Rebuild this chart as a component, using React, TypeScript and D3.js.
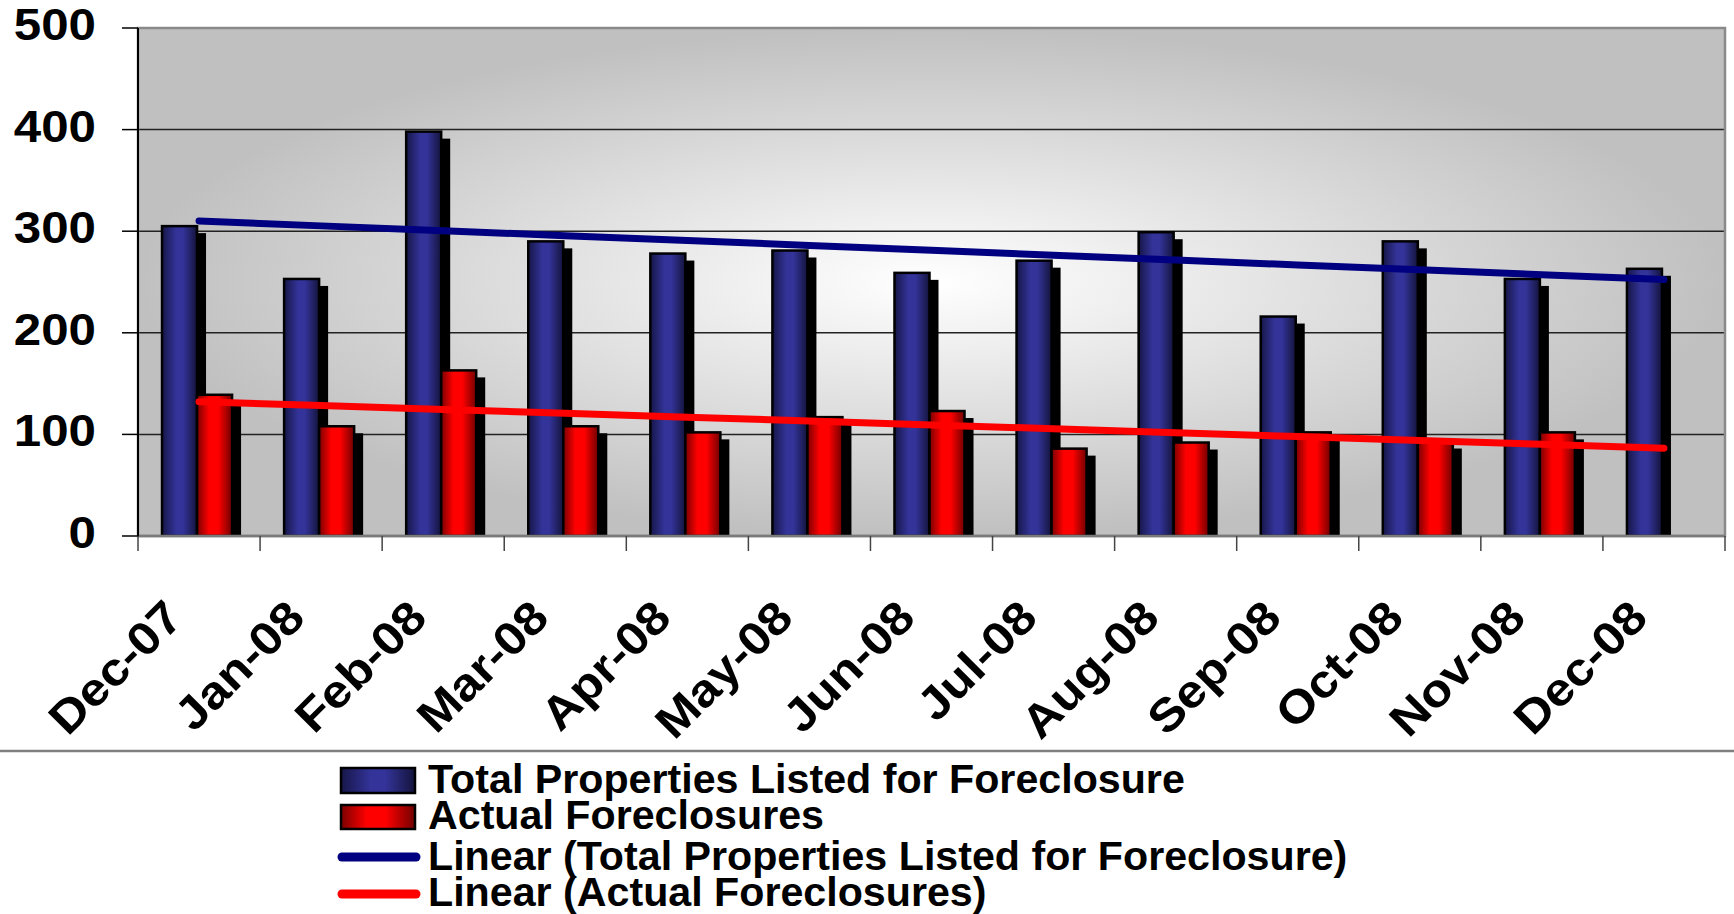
import React from 'react';
import * as d3 from 'd3';

const months = ['Dec-07', 'Jan-08', 'Feb-08', 'Mar-08', 'Apr-08', 'May-08', 'Jun-08', 'Jul-08', 'Aug-08', 'Sep-08', 'Oct-08', 'Nov-08', 'Dec-08'];
const totalListed = [305, 253, 398, 290, 278, 281, 259, 271, 299, 216, 290, 253, 263];
const actualForeclosures: (number | null)[] = [139, 108, 163, 108, 102, 117, 123, 86, 92, 102, 93, 102, null];
const yTicks = [0, 100, 200, 300, 400, 500];
const seriesKeys = ['total', 'actual'];
const legendLabels = [
  'Total Properties Listed for Foreclosure',
  'Actual Foreclosures',
  'Linear (Total Properties Listed for Foreclosure)',
  'Linear (Actual Foreclosures)',
];

const W = 1734;
const H = 914;
const plot = { left: 138, right: 1725, top: 28, bottom: 536 };
const FONT = '"Liberation Sans", Arial, Helvetica, sans-serif';

// least squares fit over the points that have values
function linearFit(vals: (number | null)[]) {
  const pts = vals.map((v, i) => [i, v] as [number, number | null]).filter((p) => p[1] != null) as [number, number][];
  const mx = d3.mean(pts, (p) => p[0])!;
  const my = d3.mean(pts, (p) => p[1])!;
  const sxy = d3.sum(pts, (p) => (p[0] - mx) * (p[1] - my));
  const sxx = d3.sum(pts, (p) => (p[0] - mx) ** 2);
  const slope = sxy / sxx;
  return (i: number) => my + slope * (i - mx);
}

const App: React.FC = () => {
  const x = d3.scaleBand<string>().domain(months).range([plot.left, plot.right]).padding(0);
  const inner = d3.scaleBand<string>().domain(seriesKeys).range([0, x.bandwidth()]).paddingInner(0).paddingOuter(0.743);
  const y = d3.scaleLinear().domain([0, 500]).range([plot.bottom, plot.top]);

  const cx = (i: number) => x(months[i])! + x.bandwidth() / 2;
  const trendLine = d3.line<number>().x((_, i) => cx(i)).y((v) => y(v));
  const totalFit = linearFit(totalListed);
  const actualFit = linearFit(actualForeclosures);
  const totalTrend = months.map((_, i) => totalFit(i));
  const actualTrend = months.map((_, i) => actualFit(i));

  const pw = plot.right - plot.left;
  const ph = plot.bottom - plot.top;

  const shadowDx = 9;
  const shadowDy = 7;

  const bars = months.flatMap((m, i) => {
    const out: { key: string; x: number; yTop: number; fill: string }[] = [];
    out.push({ key: 'total', x: x(m)! + inner('total')! - 2, yTop: y(totalListed[i]), fill: 'url(#gBlue)' });
    const a = actualForeclosures[i];
    if (a != null) out.push({ key: 'actual', x: x(m)! + inner('actual')! - 2, yTop: y(a), fill: 'url(#gRed)' });
    return out;
  });
  const bw = inner.bandwidth();

  const legendBase = [793, 829, 870, 906];

  return (
    <svg width={W} height={H} style={{ display: 'block', background: '#fff' }}>
      <style>{'body{margin:0}'}</style>
      <defs>
        <linearGradient id="gBlue" x1="0" x2="1" y1="0" y2="0">
          <stop offset="0" stopColor="#161648" />
          <stop offset="0.4" stopColor="#333399" />
          <stop offset="0.6" stopColor="#333399" />
          <stop offset="1" stopColor="#14143c" />
        </linearGradient>
        <linearGradient id="gRed" x1="0" x2="1" y1="0" y2="0">
          <stop offset="0" stopColor="#7a0000" />
          <stop offset="0.35" stopColor="#ff0000" />
          <stop offset="0.6" stopColor="#ff0000" />
          <stop offset="1" stopColor="#700000" />
        </linearGradient>
        <radialGradient id="bg" cx="0.5" cy="0.5" r="0.5" fx="0.5" fy="0.5">
          <stop offset="0" stopColor="#ffffff" />
          <stop offset="1" stopColor="#c0c0c0" />
        </radialGradient>
        <clipPath id="plotClip">
          <rect x={plot.left} y={plot.top} width={pw} height={ph} />
        </clipPath>
      </defs>

      {/* background gradient from center */}
      <rect x={plot.left} y={plot.top} width={pw} height={ph} fill="url(#bg)" />

      {/* gridlines */}
      {yTicks.slice(1, -1).map((t) => (
        <line key={t} x1={plot.left} x2={plot.right} y1={y(t)} y2={y(t)} stroke="#222" strokeWidth={1.5} />
      ))}

      {/* plot border */}
      <rect x={plot.left} y={plot.top} width={pw} height={ph} fill="none" stroke="#8a8a8a" strokeWidth={2.5} />

      {/* bars with drop shadow */}
      <g clipPath="url(#plotClip)">
        {bars.map((b, i) => (
          <rect key={'s' + i} x={b.x + shadowDx} y={b.yTop + shadowDy} width={bw} height={Math.max(0, plot.bottom - b.yTop - shadowDy)} fill="#000" />
        ))}
        {bars.map((b, i) => (
          <rect key={'b' + i} x={b.x} y={b.yTop} width={bw} height={plot.bottom - b.yTop} fill={b.fill} stroke="#000" strokeWidth={2.5} />
        ))}
      </g>

      {/* axes */}
      <line x1={plot.left} x2={plot.right} y1={plot.bottom} y2={plot.bottom} stroke="#7a7a7a" strokeWidth={2.5} />
      <line x1={plot.left} x2={plot.left} y1={plot.top} y2={plot.bottom + 1} stroke="#000" strokeWidth={2} />
      {yTicks.map((t) => (
        <line key={'yt' + t} x1={plot.left - 16} x2={plot.left} y1={y(t)} y2={y(t)} stroke="#000" strokeWidth={1.5} />
      ))}
      {d3.range(months.length + 1).map((i) => {
        const xx = i < months.length ? x(months[i])! : plot.right;
        return <line key={'xt' + i} x1={xx} x2={xx} y1={plot.bottom} y2={plot.bottom + 15} stroke="#444" strokeWidth={1.5} />;
      })}

      {/* trend lines */}
      <path d={trendLine(totalTrend)!} fill="none" stroke="#000080" strokeWidth={7} strokeLinecap="round" />
      <path d={trendLine(actualTrend)!} fill="none" stroke="#ff0000" strokeWidth={7} strokeLinecap="round" />

      {/* y labels */}
      {yTicks.map((t) => (
        <text key={'yl' + t} transform={`translate(96,${y(t) + 12}) scale(1.12,1)`} textAnchor="end" fontFamily={FONT} fontWeight="bold" fontSize={44} fill="#000">
          {t}
        </text>
      ))}

      {/* x labels */}
      {months.map((m, i) => (
        <text key={'xl' + m} transform={`translate(${cx(i) - 14},620) rotate(-45) scale(1.1,1)`} textAnchor="end" fontFamily={FONT} fontWeight="bold" fontSize={46} fill="#000">
          {m}
        </text>
      ))}

      {/* legend */}
      <line x1={0} x2={W} y1={751} y2={751} stroke="#808080" strokeWidth={2.5} />
      <rect x={341} y={legendBase[0] - 25} width={74} height={25} fill="url(#gBlue)" stroke="#000" strokeWidth={2.5} />
      <rect x={341} y={legendBase[1] - 24} width={74} height={24} fill="url(#gRed)" stroke="#000" strokeWidth={2.5} />
      <line x1={342} x2={416} y1={legendBase[2] - 13} y2={legendBase[2] - 13} stroke="#000080" strokeWidth={9} strokeLinecap="round" />
      <line x1={342} x2={416} y1={legendBase[3] - 12} y2={legendBase[3] - 12} stroke="#ff0000" strokeWidth={9} strokeLinecap="round" />
      {legendLabels.map((l, i) => (
        <text key={l} transform={`translate(428,${legendBase[i]}) scale(1.03,1)`} fontFamily={FONT} fontWeight="bold" fontSize={40} fill="#000">
          {l}
        </text>
      ))}
    </svg>
  );
};

export default App;
